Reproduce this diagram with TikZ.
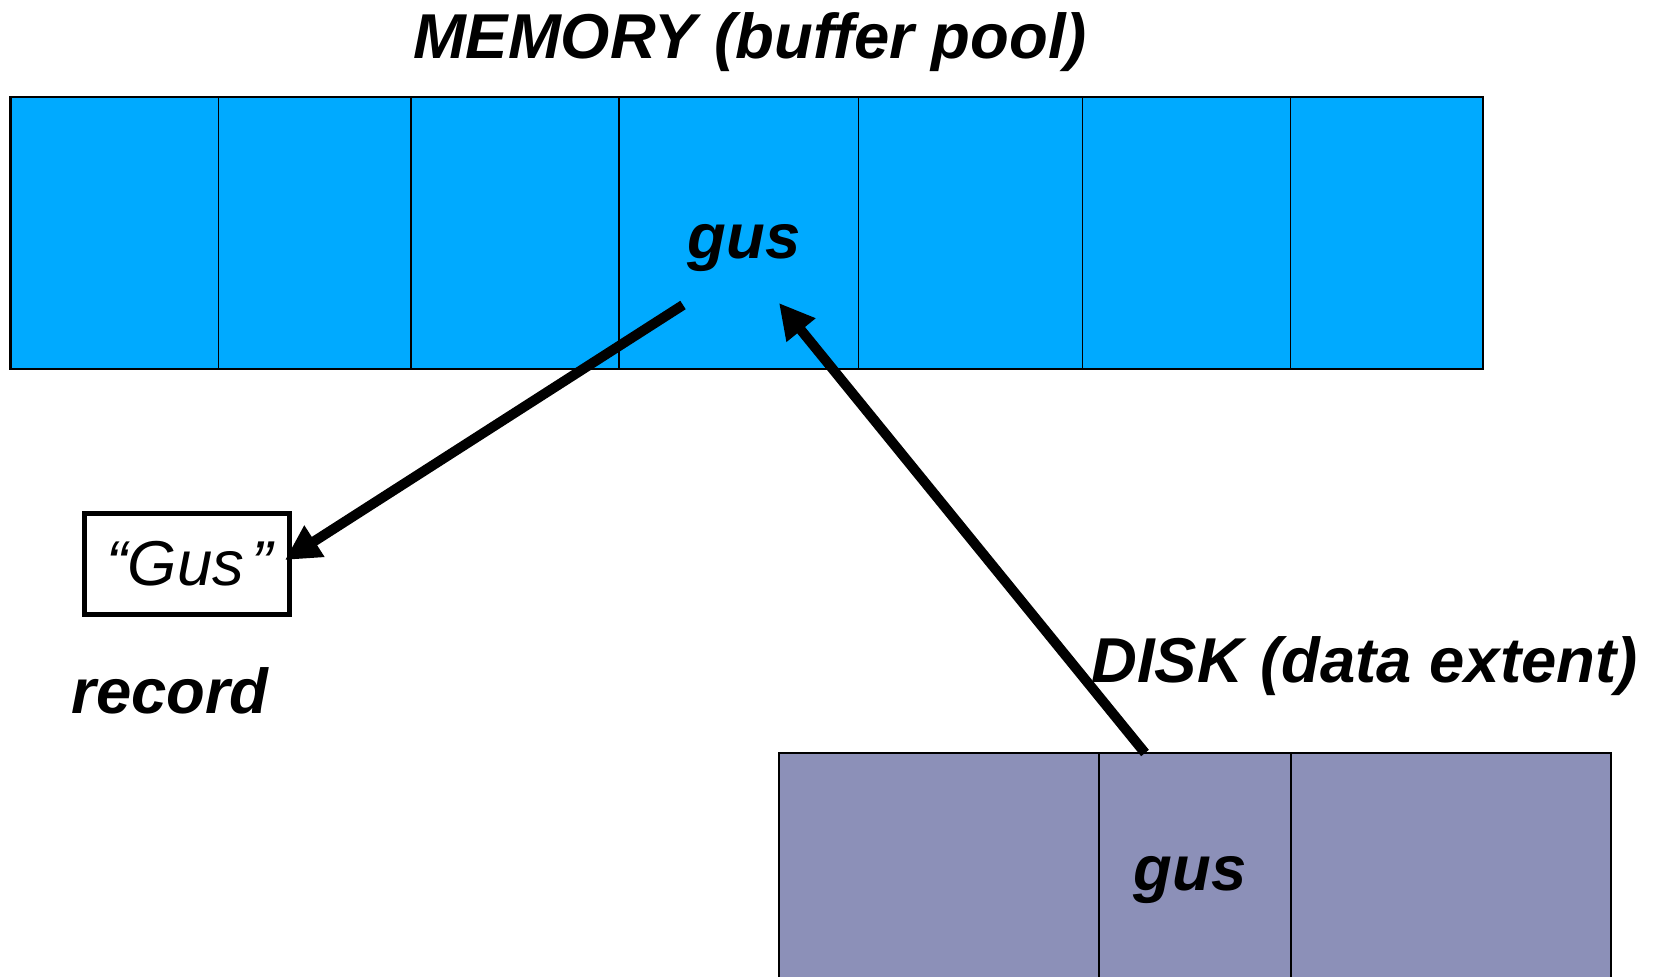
\documentclass[tikz,border=0pt]{standalone}
\usepackage{fontspec}
\setmainfont{Liberation Sans}
\usetikzlibrary{arrows.meta}
\definecolor{membg}{RGB}{0,170,255}
\definecolor{diskbg}{RGB}{140,144,184}
\begin{document}
\begin{tikzpicture}[x=0.5pt,y=-0.5pt,
  lbl/.style={font=\fontsize{31.7}{38}\selectfont\bfseries\itshape, inner sep=0pt, anchor=base},
  memcell/.style={draw=black, line width=0.8pt, fill=membg, inner sep=0pt, outer sep=0pt, minimum height=136pt},
  diskcell/.style={draw=black, line width=0.8pt, fill=diskbg, inner sep=0pt, outer sep=0pt, minimum height=123.5pt},
  recbox/.style={draw=black, line width=2.5pt, fill=white, inner sep=0pt, outer sep=0pt,
    minimum width=102.5pt, minimum height=50.5pt, font=\fontsize{31.7}{38}\selectfont\itshape},
  arr/.style={-{Triangle[length=17.5pt,width=17.5pt]}, line width=5pt}]
\clip (0,0) rectangle (1656,976);
\fill[white] (0,0) rectangle (1656,976);
% memory cells
\node[memcell, minimum width=104pt]   (m1) at (114.6,233) {};
\node[memcell, minimum width=96.1pt]  (m2) at (314.7,233) {};
\node[memcell, minimum width=104.05pt](m3) at (514.85,233) {};
\node[memcell, minimum width=119.85pt](m4) at (738.75,233) {};
\node[memcell, minimum width=111.95pt](m5) at (970.55,233) {};
\node[memcell, minimum width=104.05pt](m6) at (1186.55,233) {};
\node[memcell, minimum width=96.05pt] (m7) at (1386.65,233) {};
\draw[line width=1.2pt] (m1.north west) rectangle (m7.south east);
% disk cells
\node[diskcell, minimum width=160pt] (d1) at (939,876.5) {};
\node[diskcell, minimum width=96pt]  (d2) at (1195,876.5) {};
\node[diskcell, minimum width=160pt] (d3) at (1451,876.5) {};
\draw[line width=1.2pt] (d1.south west) -- (d1.north west) -- (d3.north east) -- (d3.south east);
% labels
\node[lbl] (title) at (750,58) {MEMORY (buffer pool)};
\node[lbl] (mgus) at (744,258) {gus};
\node[recbox] (gusbox) at (186.5,563.5) {\hspace{3pt}“Gus\hspace{3.5pt}”};
\node[lbl] (record) at (170,713) {record};
\node[lbl, anchor=base west] (disktitle) at (1091,682) {DISK (data extent)};
\node[lbl] (dgus) at (1190,890) {gus};
% arrows
\draw[arr] ([shift={(-61,47)}]mgus.base) -- ([shift={(-4,-3.5)}]gusbox.east);
\draw[arr] ([shift={(-50,0)}]d2.north) -- ([shift={(35,45)}]mgus.base);
\end{tikzpicture}
\end{document}
